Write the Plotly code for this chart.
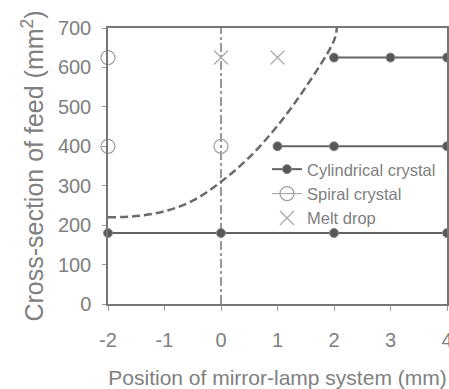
import plotly.graph_objects as go

# Cylindrical crystal series (three horizontal levels)
cyl_low_x = [-2, 0, 2, 4]
cyl_low_y = [180, 180, 180, 180]
cyl_mid_x = [1, 2, 4]
cyl_mid_y = [400, 400, 400]
cyl_high_x = [2, 3, 4]
cyl_high_y = [625, 625, 625]

# Spiral crystal
spiral_x = [-2, -2, 0]
spiral_y = [625, 400, 400]

# Melt drop
melt_x = [0, 1]
melt_y = [625, 625]

# Dashed boundary curve
curve_x = [-2, -1.5, -1, -0.5, 0, 0.5, 1, 1.5, 2, 2.05]
curve_y = [220, 223, 235, 262, 310, 372, 452, 550, 668, 700]

x_ticks = [-2, -1, 0, 1, 2, 3, 4]
x_tick_labels = ["-2", "-1", "0", "1", "2", "3", "4"]
y_ticks = [0, 100, 200, 300, 400, 500, 600, 700]

GRAY = "#636363"
DARK = "#585858"
TXT = "#808080"
FONT = "Liberation Sans, Arial, sans-serif"

fig = go.Figure()

fig.add_trace(go.Scatter(x=curve_x, y=curve_y, mode="lines",
                         line=dict(color="#6a6a6a", width=2.5, dash="8px,4px", shape="spline"),
                         showlegend=False))
fig.add_trace(go.Scatter(x=[0, 0], y=[0, 700], mode="lines",
                         line=dict(color=GRAY, width=1.3, dash="dashdot"), showlegend=False))

for i, (xs, ys) in enumerate([(cyl_low_x, cyl_low_y), (cyl_mid_x, cyl_mid_y), (cyl_high_x, cyl_high_y)]):
    fig.add_trace(go.Scatter(x=xs, y=ys, mode="lines+markers", name="Cylindrical crystal",
                             line=dict(color=GRAY, width=2),
                             marker=dict(color=DARK, size=9, line=dict(color="#8a8a8a", width=1)),
                             showlegend=(i == 0), cliponaxis=False))

fig.add_trace(go.Scatter(x=spiral_x, y=spiral_y, mode="markers", name="Spiral crystal",
                         marker=dict(symbol="circle-open", color="#a0a0a0", size=14, line=dict(width=1.3)),
                         showlegend=False, cliponaxis=False))
fig.add_trace(go.Scatter(x=[None], y=[None], mode="lines+markers", name="Spiral crystal",
                         line=dict(color="#a0a0a0", width=1),
                         marker=dict(symbol="circle-open", color="#a0a0a0", size=14, line=dict(width=1.3))))
fig.add_trace(go.Scatter(x=melt_x, y=melt_y, mode="markers", name="Melt drop",
                         marker=dict(symbol="x-thin-open", color="#ababab", size=14,
                                     line=dict(width=1.3, color="#ababab")),
                         cliponaxis=False))

fig.update_layout(
    width=449, height=389,
    margin=dict(l=108, r=2, t=28, b=85),
    paper_bgcolor="white", plot_bgcolor="white",
    font=dict(family=FONT, color=TXT, size=20),
    legend=dict(x=0.469, y=0.551, xanchor="left", yanchor="top", bgcolor="rgba(255,255,255,0)",
                font=dict(size=16.5, color=TXT), tracegroupgap=0, itemwidth=30),
)
fig.update_xaxes(range=[-2, 4], tickvals=x_ticks, ticktext=x_tick_labels, showgrid=False, zeroline=False,
                 automargin=False,
                 showline=True, linecolor="#777777", linewidth=1.5, mirror=True,
                 ticks="outside", ticklen=5, tickcolor="#999999", ticklabelstandoff=12,
                 ticklabeloverflow="allow",
                 tickfont=dict(size=20, color=TXT),
                 title=dict(text="Position of mirror-lamp system (mm)", font=dict(size=21, color=TXT), standoff=21))
fig.update_yaxes(range=[0, 700], tickvals=y_ticks, showgrid=False, zeroline=False, automargin=False,
                 showline=True, linecolor="#777777", linewidth=1.5, mirror=True,
                 ticks="outside", ticklen=4, tickcolor="#999999", ticklabelstandoff=7,
                 tickfont=dict(size=20, color=TXT),
                 title=dict(text="Cross-section of feed (mm<sup>2</sup>)", font=dict(size=25, color=TXT), standoff=7))

# remove the default 8px page margin so the figure fills the window exactly
fig.write_html("out.html", config={"displayModeBar": False},
               post_script="document.body.style.margin='0';document.body.style.overflow='hidden';")
